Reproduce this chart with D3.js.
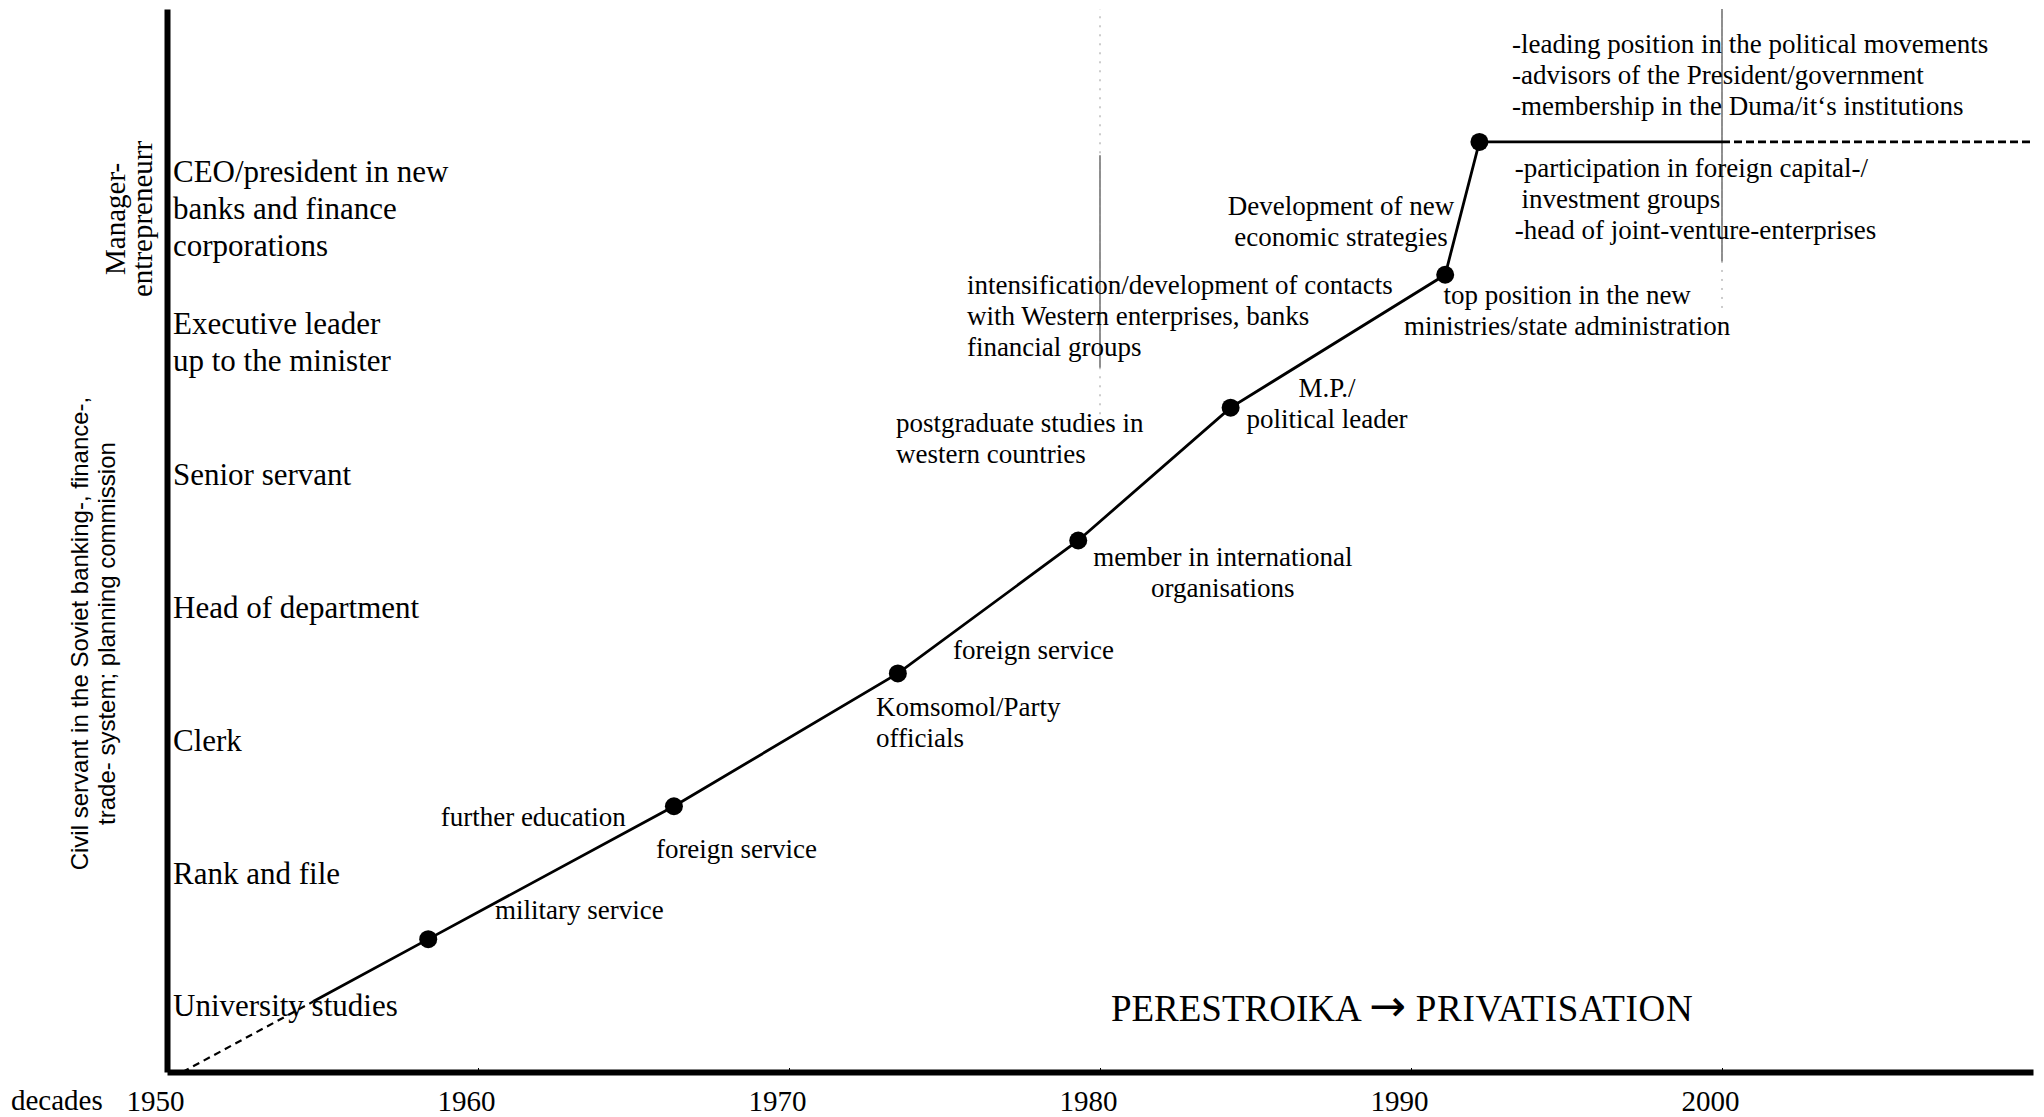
<!DOCTYPE html>
<html>
<head>
<meta charset="utf-8">
<script src="https://cdnjs.cloudflare.com/ajax/libs/d3/7.8.5/d3.min.js"></script>
<style>
body { margin: 0; background: #fff; }
svg text { font-family: "Liberation Serif", "Times New Roman", serif; fill: #000; }
</style>
</head>
<body>
<div id="chart"></div>
<script>
// decades on the x axis
var decades = [1950, 1960, 1970, 1980, 1990, 2000];

// career levels, bottom to top
var rankLabels = [
    ["University studies"],
    ["Rank and file"],
    ["Clerk"],
    ["Head of department"],
    ["Senior servant"],
    ["Executive leader", "up to the minister"],
    ["CEO/president in new", "banks and finance", "corporations"]
];

// steps of the career path (year, level)
var stepYears  = [1958.4, 1966.3, 1973.5, 1979.3, 1984.2, 1991.1, 1992.2];
var stepLevels = [1, 2, 3, 4, 5, 6, 7];

// dashed start and dashed continuation
var leadYears  = [1950.5, 1954.7];
var leadLevels = [0, 0.53];
var tailYears  = [2000, 2010];
var tailLevels = [7, 7];

// faint remains of the decade grid
var gridYears = [1980, 2000];
var gridFrom  = [5.3, 6.1];
var gridTo    = [6.9, 8.0];

// annotations: lines, anchor year, level of first line, alignment
var notes = [
    {lines: ["further education"], year: 1958.8, level: 1.92, anchor: "start"},
    {lines: ["military service"], year: 1960.55, level: 1.22, anchor: "start"},
    {lines: ["foreign service"], year: 1965.72, level: 1.68, anchor: "start"},
    {lines: ["Komsomol/Party", "officials"], year: 1972.8, level: 2.75, anchor: "start"},
    {lines: ["foreign service"], year: 1975.27, level: 3.18, anchor: "start"},
    {lines: ["member in international", "organisations"], year: 1983.95, level: 3.88, anchor: "middle"},
    {lines: ["postgraduate studies in", "western countries"], year: 1973.44, level: 4.89, anchor: "start"},
    {lines: ["M.P./", "political leader"], year: 1987.3, level: 5.15, anchor: "middle"},
    {lines: ["intensification/development of contacts", "with Western enterprises, banks", "financial groups"], year: 1975.72, level: 5.93, anchor: "start"},
    {lines: ["Development of new", "economic strategies"], year: 1987.75, level: 6.52, anchor: "middle"},
    {lines: ["top position in the new", "ministries/state administration"], year: 1995.02, level: 5.85, anchor: "middle"},
    {lines: ["-leading position in the political movements", "-advisors of the President/government", "-membership in the Duma/it\u2018s institutions"], year: 1993.25, level: 7.74, anchor: "start"},
    {lines: ["-participation in foreign capital-/", " investment groups", "-head of joint-venture-enterprises"], year: 1993.34, level: 6.81, anchor: "start"}
];

var margin = {top: 9, right: 11, bottom: 45, left: 167},
    width = 2044 - margin.left - margin.right,
    height = 1117 - margin.top - margin.bottom;

var svg = d3.select("#chart").append("svg")
    .attr("width", 2044)
    .attr("height", 1117)
  .append("g")
    .attr("transform", "translate(" + margin.left + "," + margin.top + ")");

var x = d3.scaleLinear().domain([1950, 2010]).range([0, width]);
var y = d3.scaleLinear().domain([0, 8]).range([height, 0]);

// grid remains
svg.selectAll(".grid")
    .data(gridYears)
    .enter().append("line")
    .attr("class", "grid")
    .attr("x1", function(d) { return x(d); })
    .attr("x2", function(d) { return x(d); })
    .attr("y1", function(d, i) { return y(gridFrom[i]); })
    .attr("y2", function(d, i) { return y(gridTo[i]); })
    .style("stroke", "#444")
    .style("stroke-width", 1.2);

svg.selectAll(".gridDot")
    .data(gridYears)
    .enter().append("line")
    .attr("class", "gridDot")
    .attr("x1", function(d) { return x(d); })
    .attr("x2", function(d) { return x(d); })
    .attr("y1", function(d, i) { return y(gridFrom[i] - 0.35); })
    .attr("y2", function(d, i) { return y(8); })
    .style("stroke", "#999")
    .style("stroke-width", 1)
    .style("stroke-dasharray", "2,7");

// axes
var xaxis = svg.append("g")
    .attr("transform", "translate(0," + height + ")")
    .call(d3.axisBottom(x).tickValues(decades).tickFormat(d3.format("d")).tickSize(-4).tickSizeOuter(0));
xaxis.select(".domain").style("stroke", "#000").style("stroke-width", 6);
xaxis.selectAll(".tick line").style("stroke", "#000");
xaxis.selectAll("text")
    .attr("x", -12)
    .attr("y", 18)
    .style("font-family", "Liberation Serif")
    .style("font-size", "29px")
    .style("fill", "#000");

var yaxis = svg.append("g")
    .call(d3.axisLeft(y).tickValues([]).tickSizeOuter(0));
yaxis.select(".domain").style("stroke", "#000").style("stroke-width", 6);

svg.append("text")
    .attr("x", -156)
    .attr("y", height + 28)
    .attr("dy", "0.35em")
    .style("font-size", "29px")
    .text("decades");

// category labels
var lvl = svg.selectAll(".rank")
    .data(rankLabels)
    .enter().append("text")
    .attr("class", "rank")
    .attr("x", 6)
    .attr("y", function(d, i) { return y(i + 0.5) - (d.length - 1) / 2 * 37; })
    .style("font-size", "31px");
lvl.selectAll("tspan")
    .data(function(d) { return d; })
    .enter().append("tspan")
    .attr("x", 6)
    .attr("dy", function(d, i) { return i == 0 ? "0.35em" : 37; })
    .text(function(d) { return d; });

// rotated axis titles
var title1 = svg.append("text")
    .attr("transform", "translate(" + (-87) + "," + (y(3.3)) + ") rotate(-90)")
    .attr("text-anchor", "middle")
    .style("font-family", "Liberation Sans")
    .style("font-size", "24px");
title1.append("tspan").attr("x", 0).attr("dy", "0.35em").text("Civil servant in the Soviet banking-, finance-,");
title1.append("tspan").attr("x", 0).attr("dy", 27).text("trade- system; planning commission");

var title2 = svg.append("text")
    .attr("transform", "translate(" + (-52) + "," + (y(6.42)) + ") rotate(-90)")
    .attr("text-anchor", "middle")
    .style("font-size", "29px");
title2.append("tspan").attr("x", 0).attr("dy", "0.35em").text("Manager-");
title2.append("tspan").attr("x", 0).attr("dy", 27).text("entrepreneurr");

// career path
var line = d3.line()
    .x(function(d) { return x(d[0]); })
    .y(function(d) { return y(d[1]); });

var steps = stepYears.map(function(d, i) { return [d, stepLevels[i]]; });
var solid = [[leadYears[1], leadLevels[1]]].concat(steps).concat([[tailYears[0], tailLevels[0]]]);
var lead = leadYears.map(function(d, i) { return [d, leadLevels[i]]; });
var tail = tailYears.map(function(d, i) { return [d, tailLevels[i]]; });

svg.append("path").datum(lead)
    .attr("d", line)
    .style("fill", "none").style("stroke", "#000").style("stroke-width", 2.2)
    .style("stroke-dasharray", "7,5");
svg.append("path").datum(solid)
    .attr("d", line)
    .style("fill", "none").style("stroke", "#000").style("stroke-width", 2.8);
svg.append("path").datum(tail)
    .attr("d", line)
    .style("fill", "none").style("stroke", "#000").style("stroke-width", 2.8)
    .style("stroke-dasharray", "8,4");

svg.selectAll(".step")
    .data(steps)
    .enter().append("circle")
    .attr("class", "step")
    .attr("cx", function(d) { return x(d[0]); })
    .attr("cy", function(d) { return y(d[1]); })
    .attr("r", 9)
    .style("fill", "#000");

// annotations
var note = svg.selectAll(".note")
    .data(notes)
    .enter().append("text")
    .attr("class", "note")
    .attr("text-anchor", function(d) { return d.anchor; })
    .attr("y", function(d) { return y(d.level); })
    .style("font-size", "27px")
    .style("white-space", "pre");
note.selectAll("tspan")
    .data(function(d) { return d.lines.map(function(t) { return {t: t, yr: d.year}; }); })
    .enter().append("tspan")
    .attr("x", function(d) { return x(d.yr); })
    .attr("dy", function(d, i) { return i == 0 ? "0.35em" : 31; })
    .text(function(d) { return d.t; });

var era = svg.append("text")
    .attr("x", x(1980.35))
    .attr("y", y(0.48))
    .attr("dy", "0.35em")
    .style("font-size", "37px")
    .style("white-space", "pre");
era.append("tspan").text("PERESTROIKA ");
era.append("tspan")
    .style("font-family", "DejaVu Sans")
    .style("font-size", "44px")
    .text("\u2192");
era.append("tspan").attr("textLength", 287).text(" PRIVATISATION");
</script>
</body>
</html>
